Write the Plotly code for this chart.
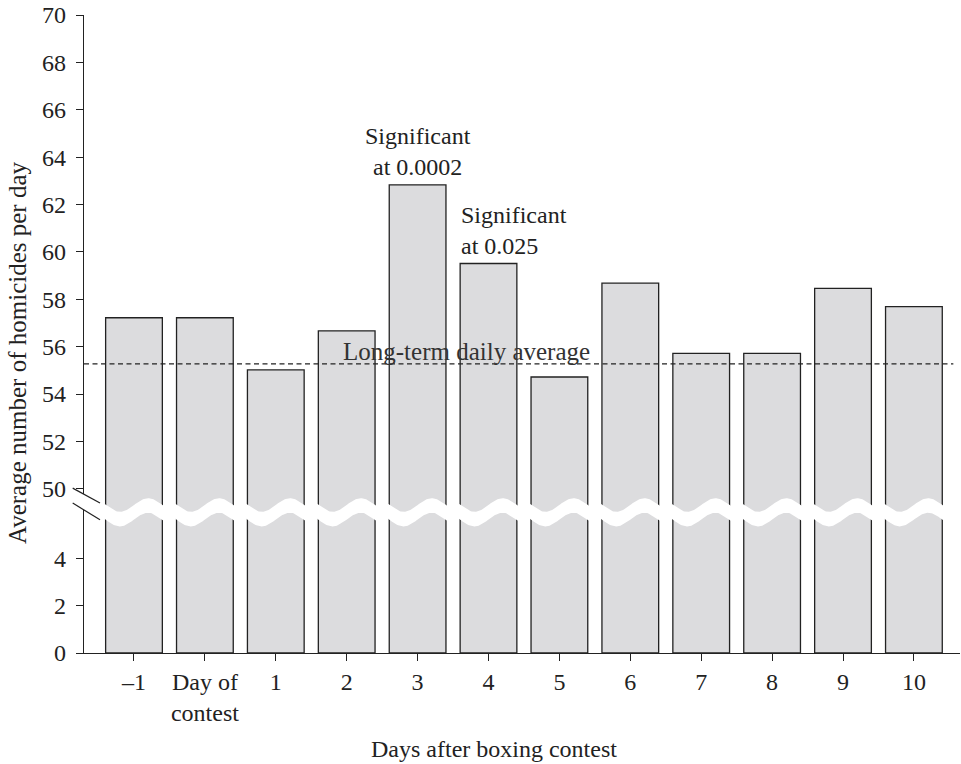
import numpy as np
import plotly.graph_objects as go

# ---------------- data ----------------
categories = ["–1", "Day of<br>contest", "1", "2", "3", "4", "5", "6", "7", "8", "9", "10"]
homicides = [57.22, 57.22, 55.02, 56.67, 62.83, 59.51, 54.72, 58.68, 55.72, 55.72, 58.46, 57.69]
long_term_avg = 55.27
lower_ticks = [0, 2, 4]
upper_ticks = [50, 52, 54, 56, 58, 60, 62, 64, 66, 68, 70]
sig_labels = {4: "Significant<br>at 0.0002", 5: "Significant<br>at 0.025"}

# ---------------- broken-axis transform ----------------
BREAK_LOW = 50
OFFSET = 43.07          # 50 is drawn at 6.93 on the linear axis
Y_TOP = 70 - OFFSET


def tr(v):
    return v - OFFSET if v >= BREAK_LOW else v


FONT = "Liberation Serif"
INK = "#222222"
BAR_FILL = "#dcdcde"

W, H = 961, 764
ML, MR, MT, MB = 84, 1, 15, 111
PW = W - ML - MR
PH = H - MT - MB
X_RANGE = [-0.705, 11.65]
px_per_unit_y = PH / Y_TOP

xs = list(range(len(categories)))
ys = [tr(v) for v in homicides]

fig = go.Figure()
fig.add_trace(go.Bar(
    x=xs, y=ys, width=0.8,
    marker=dict(color=BAR_FILL, line=dict(color=INK, width=1.3)),
    hoverinfo="skip",
))

# wavy white break band across each bar
wave_c = 5.94
wave_a = 6.8 / px_per_unit_y
wave_h = 7.3 / px_per_unit_y
t = np.linspace(-0.1, 1.1, 80)
for i in xs:
    wx = i - 0.4 + 0.8 * t
    mid = wave_c - wave_a * np.sin(2 * np.pi * t)
    top = mid + wave_h
    bot = mid - wave_h
    fig.add_trace(go.Scatter(
        x=np.concatenate([wx, wx[::-1]]),
        y=np.concatenate([top, bot[::-1]]),
        fill="toself", fillcolor="white", mode="lines",
        line=dict(width=0, color="white"), hoverinfo="skip",
    ))

shapes = []
# long-term average dashed line
shapes.append(dict(type="line", xref="x", yref="y", x0=X_RANGE[0], x1=11.556,
                   y0=tr(long_term_avg), y1=tr(long_term_avg),
                   line=dict(color=INK, width=1.2, dash="5px,3.5px"), layer="above"))


def py(v):
    return v / Y_TOP


# axis break marks (paper coords)
gap_lo, gap_hi = 6.04, 6.71
shapes.append(dict(type="line", xref="paper", yref="paper", x0=0, x1=0,
                   y0=py(gap_lo), y1=py(gap_hi), line=dict(color="white", width=4), layer="above"))
sx0, sx1 = -11.3 / PW, 16 / PW
for (ya, yb) in [(6.96, 6.33), (6.33, 5.62)]:
    shapes.append(dict(type="line", xref="paper", yref="paper", x0=sx0, x1=sx1,
                       y0=py(ya), y1=py(yb), line=dict(color=INK, width=1.2), layer="above"))

annotations = [
    dict(x=4, y=tr(homicides[4]), xref="x", yref="y", text=sig_labels[4],
         showarrow=False, xanchor="center", yanchor="bottom", yshift=3, align="center"),
    dict(x=5 - 0.42, y=tr(homicides[5]), xref="x", yref="y", text=sig_labels[5],
         showarrow=False, xanchor="left", yanchor="bottom", yshift=3, align="left"),
    dict(x=2.92, y=tr(long_term_avg), xref="x", yref="y", text="Long-term daily average",
         showarrow=False, xanchor="left", yanchor="bottom", yshift=-3,
         font=dict(color="#333333", size=25)),
    dict(x=(17 - ML) / PW, y=(H - MB - 353) / PH,
         xref="paper", yref="paper", text="Average number of homicides per day",
         showarrow=False, textangle=-90, xanchor="center", yanchor="middle",
         font=dict(size=25)),
    dict(x=(494 - ML) / PW, y=(H - MB - 749) / PH, xref="paper", yref="paper",
         text="Days after boxing contest", showarrow=False, xanchor="center", yanchor="middle"),
]

tickvals_y = [tr(v) for v in lower_ticks] + [tr(v) for v in upper_ticks]
ticktext_y = [str(v) for v in lower_ticks] + [str(v) for v in upper_ticks]

fig.update_layout(
    width=W, height=H,
    margin=dict(l=ML, r=MR, t=MT, b=MB, pad=0),
    paper_bgcolor="white", plot_bgcolor="white",
    showlegend=False,
    font=dict(family=FONT, size=24, color=INK),
    shapes=shapes, annotations=annotations,
    xaxis=dict(range=X_RANGE, tickmode="array", tickvals=xs, ticktext=categories,
               ticks="outside", ticklen=7, tickwidth=1.3, tickcolor=INK,
               showline=True, linecolor=INK, linewidth=1.3, showgrid=False, zeroline=False,
               fixedrange=True),
    yaxis=dict(range=[0, Y_TOP], tickmode="array", tickvals=tickvals_y, ticktext=ticktext_y,
               ticks="outside", ticklen=7, tickwidth=1.3, tickcolor=INK,
               showline=True, linecolor=INK, linewidth=1.3, showgrid=False, zeroline=False,
               ticklabelstandoff=5, fixedrange=True),
)

fig.write_html("out.html")
